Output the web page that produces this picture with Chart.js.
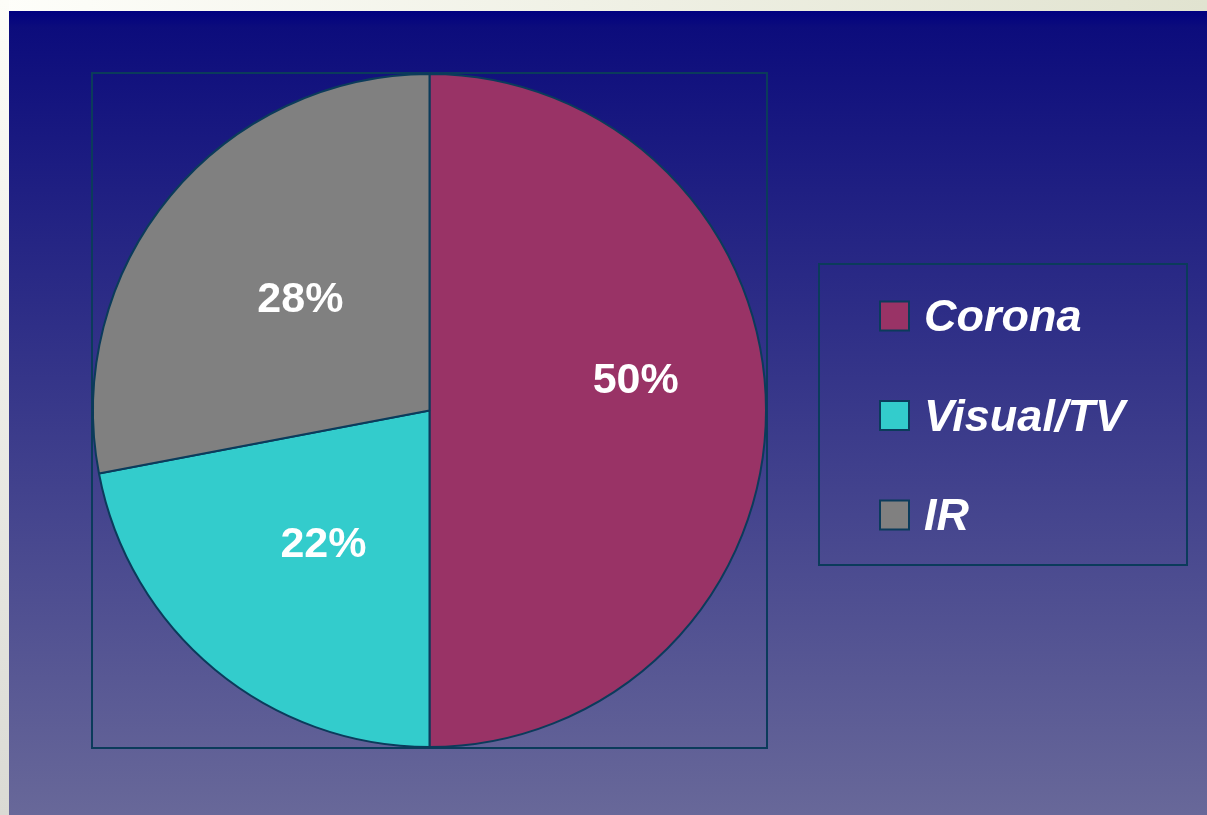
<!DOCTYPE html>
<html>
<head>
<meta charset="utf-8">
<script src="https://cdn.jsdelivr.net/npm/chart.js@4.4.0/dist/chart.umd.min.js"></script>
<style>
  html, body { margin: 0; padding: 0; background: #ffffff; }
  canvas { display: block; }
</style>
</head>
<body>
<canvas id="chartgpie" width="1207" height="815"></canvas>
<script>
// data
const categories = ['Corona', 'Visual/TV', 'IR'];
const shares = [50, 22, 28];
const sliceColors = ['#993366', '#33CCCC', '#808080'];

const edgeColor = '#0b3b5b';
const fontFam = "'Liberation Sans', Arial, sans-serif";

// slide background: light frame strips + navy gradient
const slideBg = {
    id: 'slideBg',
    beforeDraw(chart) {
        const ctx = chart.ctx, w = chart.width, h = chart.height;
        ctx.save();
        let g = ctx.createLinearGradient(0, 0, w, 0);
        g.addColorStop(0, '#fefefa');
        g.addColorStop(1, '#e1e3d0');
        ctx.fillStyle = g;
        ctx.fillRect(0, 0, w, 11);
        g = ctx.createLinearGradient(0, 0, 0, h);
        g.addColorStop(0, '#fdfdf8');
        g.addColorStop(1, '#dadad4');
        ctx.fillStyle = g;
        ctx.fillRect(0, 0, 9, h);
        g = ctx.createLinearGradient(0, 11, 0, h);
        g.addColorStop(0, '#000080');
        g.addColorStop(0.02, '#0c0c7c');
        g.addColorStop(1, '#686899');
        ctx.fillStyle = g;
        ctx.fillRect(9, 11, w - 9, h - 11);
        // plot frame
        const a = chart.chartArea;
        ctx.strokeStyle = edgeColor;
        ctx.lineWidth = 2;
        ctx.strokeRect(a.left, a.top, a.right - a.left, a.bottom - a.top);
        ctx.restore();
    }
};

// percent labels inside slices
const sliceLabels = {
    id: 'sliceLabels',
    afterDatasetsDraw(chart, args, opts) {
        const ctx = chart.ctx;
        const meta = chart.getDatasetMeta(0);
        ctx.save();
        ctx.fillStyle = '#ffffff';
        ctx.font = 'bold 43px ' + fontFam;
        ctx.textAlign = 'center';
        ctx.textBaseline = 'middle';
        meta.data.forEach(function(arc, i) {
            const p = arc.getProps(['x', 'y', 'startAngle', 'endAngle', 'outerRadius']);
            const mid = (p.startAngle + p.endAngle) / 2 + (opts.angleShift[i] || 0);
            const r = p.outerRadius * opts.radius[i];
            ctx.fillText(shares[i] + '%', p.x + Math.cos(mid) * r, p.y + Math.sin(mid) * r + 3);
        });
        ctx.restore();
    }
};

// boxed legend to the right
const boxLegend = {
    id: 'boxLegend',
    afterDraw(chart, args, opts) {
        const ctx = chart.ctx;
        ctx.save();
        ctx.strokeStyle = edgeColor;
        ctx.lineWidth = 2;
        ctx.strokeRect(opts.x, opts.y, opts.w, opts.h);
        ctx.font = 'italic bold 45px ' + fontFam;
        ctx.textBaseline = 'middle';
        chart.data.labels.forEach(function(lab, i) {
            const cy = opts.y + opts.first + i * opts.step;
            ctx.fillStyle = sliceColors[i];
            ctx.fillRect(opts.x + 61, cy - 14.5, 29, 29);
            ctx.strokeStyle = edgeColor;
            ctx.lineWidth = 2;
            ctx.strokeRect(opts.x + 61, cy - 14.5, 29, 29);
            ctx.fillStyle = '#ffffff';
            ctx.fillText(lab, opts.x + 105, cy + 3);
        });
        ctx.restore();
    }
};

const dt = {
    labels: categories,
    datasets: [{
        data: shares,
        backgroundColor: sliceColors,
        borderColor: edgeColor,
        borderWidth: 2
    }]
};

const config_chartgpie = {
    type: 'pie',
    data: dt,
    options: {
        responsive: false,
        animation: false,
        layout: { padding: { left: 92, top: 73, right: 440, bottom: 67 } },
        plugins: {
            legend: { display: false },
            tooltip: { enabled: false },
            sliceLabels: { radius: [0.62, 0.503, 0.51], angleShift: [-0.154, -0.014, 0.028] },
            boxLegend: { x: 819, y: 264, w: 368, h: 301, first: 52, step: 99.5 }
        }
    },
    plugins: [slideBg, sliceLabels, boxLegend]
};

const chartgpie_data = new Chart(
    document.getElementById('chartgpie'),
    config_chartgpie
);
</script>
</body>
</html>
